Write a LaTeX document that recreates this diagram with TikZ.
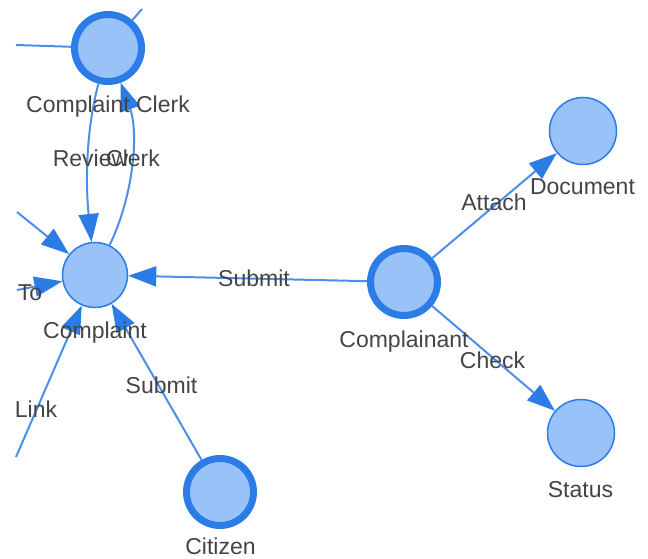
\documentclass[tikz,border=0pt]{standalone}
\usepackage{fontspec}
\setmainfont{Liberation Sans}
\usetikzlibrary{arrows.meta}
\definecolor{nodefill}{HTML}{99C2F9}
\definecolor{nodeline}{HTML}{2B7CE6}
\definecolor{edgeline}{HTML}{4A8FEA}
\definecolor{txt}{HTML}{444444}
\begin{document}
\begin{tikzpicture}[x=1pt,y=1pt,
  thinnode/.style={circle, draw=nodeline, fill=nodefill, line width=1.5pt, minimum size=67pt, inner sep=0pt},
  thicknode/.style={circle, draw=nodeline, fill=nodefill, line width=7pt, minimum size=67pt, inner sep=0pt},
  lbl/.style={text=txt, font=\fontsize{23}{27}\selectfont, anchor=base, inner sep=0pt},
  edge/.style={draw=edgeline, line width=2pt},
  arr/.style={edge, -{Triangle[length=28pt,width=20pt,color=nodeline]}},
]
\useasboundingbox (0,0) rectangle (648,558);
% nodes
\node[thicknode] (clerk) at (108,510) {};
\node[thinnode, minimum size=65pt] (complaint) at (95,283) {};
\node[thicknode] (complainant) at (404,276) {};
\node[thinnode] (document) at (583,427) {};
\node[thinnode] (status) at (581,125) {};
\node[thicknode] (citizen) at (220,66) {};
% free ends of edges cut at the view edge
\coordinate (offA) at (17,346);
\coordinate (offTo) at (17,268);
\coordinate (offL) at (16,101);
\coordinate (offB) at (16,513);
\coordinate (offC) at (142,549);
% edges
\draw[arr] (offA) -- (complaint);
\draw[arr] (offTo) -- (complaint);
\draw[arr] (offL) -- (complaint);
\draw[edge] (offB) -- (clerk);
\draw[edge] (offC) -- (clerk);
\draw[arr] (clerk) to[out=-105, in=96, looseness=0.85] (complaint);
\draw[arr] (complaint) to[out=64, in=-70, looseness=0.85] (clerk);
\draw[arr] (complainant) -- (complaint);
\draw[arr] (citizen) -- (complaint);
\draw[arr] (complainant) -- (document);
\draw[arr] (complainant) -- (status);
% labels
\node[lbl] (lclerk) at (108,445) {Complaint Clerk};
\node[lbl] (lreview) at (90.5,391) {Review};
\node[lbl] (lclerk2) at (133,391) {Clerk};
\node[lbl] (lcomplaint) at (95,220) {Complaint};
\node[lbl] (lto) at (30,258) {To};
\node[lbl] (llink) at (36,141) {Link};
\node[lbl] (lsubmit1) at (161.5,165) {Submit};
\node[lbl] (lsubmit2) at (254,272) {Submit};
\node[lbl] (lcitizen) at (220.5,4) {Citizen};
\node[lbl] (lcomplainant) at (404,211) {Complainant};
\node[lbl] (lcheck) at (492.5,190) {Check};
\node[lbl] (lattach) at (494,348) {Attach};
\node[lbl] (ldocument) at (582.5,363) {Document};
\node[lbl] (lstatus) at (580.5,61) {Status};
\end{tikzpicture}
\end{document}
